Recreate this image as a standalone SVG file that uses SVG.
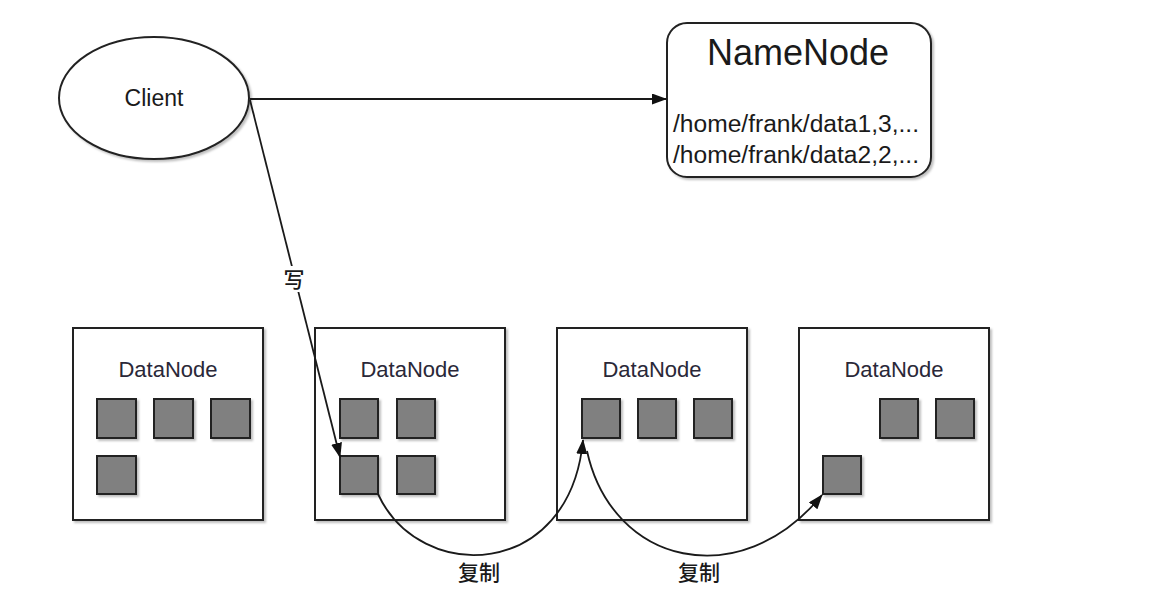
<svg xmlns="http://www.w3.org/2000/svg" width="1160" height="616" viewBox="0 0 1160 616">
<style>
.ln{fill:none;stroke:#1a1a1a;stroke-width:1.8}
.box{fill:#fff;stroke:#222;stroke-width:2}
.blk{fill:#808080;stroke:#222;stroke-width:2}
.lat{font-family:"Liberation Sans",Arial,sans-serif;fill:#1a1a1a}
.dn{font-family:"Liberation Sans",Arial,sans-serif;font-size:22px;fill:#2a2838;text-anchor:middle}
.cjk{font-family:"Noto Sans CJK SC","Noto Sans",sans-serif;font-size:21px;font-weight:500;fill:#1a1a1a;text-anchor:middle}
</style>
<defs>
<marker id="ah" markerWidth="15" markerHeight="11" refX="14" refY="5.5" orient="auto" markerUnits="userSpaceOnUse">
<path d="M0,0 L15,5.5 L0,11 Z" fill="#111"/>
</marker>
<filter id="sh" x="-10%" y="-10%" width="130%" height="130%">
<feDropShadow dx="2" dy="2" stdDeviation="1.2" flood-color="#000" flood-opacity="0.25"/>
</filter>
</defs>
<rect width="1160" height="616" fill="#fff"/>

<g id="client">
<ellipse cx="154" cy="98" rx="95" ry="61" class="box" filter="url(#sh)"/>
<text x="154" y="106" class="lat" font-size="23" text-anchor="middle">Client</text>
</g>

<g id="namenode">
<rect x="667" y="23" width="264" height="154" rx="20" class="box" filter="url(#sh)"/>
<text x="798" y="65" class="lat" font-size="36" text-anchor="middle">NameNode</text>
<text x="673" y="132" class="lat" font-size="23" textLength="246" lengthAdjust="spacingAndGlyphs">/home/frank/data1,3,...</text>
<text x="673" y="163" class="lat" font-size="23" textLength="246" lengthAdjust="spacingAndGlyphs">/home/frank/data2,2,...</text>
</g>

<g id="datanode1">
<rect x="73" y="328" width="190" height="192" class="box" filter="url(#sh)"/>
<text x="168" y="377" class="dn">DataNode</text>
<rect x="97" y="399" width="39" height="39" class="blk" filter="url(#sh)"/>
<rect x="154" y="399" width="39" height="39" class="blk" filter="url(#sh)"/>
<rect x="211" y="399" width="39" height="39" class="blk" filter="url(#sh)"/>
<rect x="97" y="456" width="39" height="38" class="blk" filter="url(#sh)"/>
</g>

<g id="datanode2">
<rect x="315" y="328" width="190" height="192" class="box" filter="url(#sh)"/>
<text x="410" y="377" class="dn">DataNode</text>
<rect x="340" y="399" width="38" height="39" class="blk" filter="url(#sh)"/>
<rect x="397" y="399" width="38" height="39" class="blk" filter="url(#sh)"/>
<rect x="340" y="456" width="38" height="38" class="blk" filter="url(#sh)"/>
<rect x="397" y="456" width="38" height="38" class="blk" filter="url(#sh)"/>
</g>

<g id="datanode3">
<rect x="557" y="328" width="190" height="192" class="box" filter="url(#sh)"/>
<text x="652" y="377" class="dn">DataNode</text>
<rect x="582" y="399" width="38" height="39" class="blk" filter="url(#sh)"/>
<rect x="638" y="399" width="38" height="39" class="blk" filter="url(#sh)"/>
<rect x="694" y="399" width="38" height="39" class="blk" filter="url(#sh)"/>
</g>

<g id="datanode4">
<rect x="799" y="328" width="190" height="192" class="box" filter="url(#sh)"/>
<text x="894" y="377" class="dn">DataNode</text>
<rect x="880" y="399" width="38" height="39" class="blk" filter="url(#sh)"/>
<rect x="936" y="399" width="38" height="39" class="blk" filter="url(#sh)"/>
<rect x="823" y="456" width="38" height="38" class="blk" filter="url(#sh)"/>
</g>

<g id="connectors">
<path d="M250,99 L666,99" class="ln" marker-end="url(#ah)"/>
<path d="M250,100 L340,457" class="ln" marker-end="url(#ah)"/>
<rect x="281" y="266" width="26" height="26" fill="#fff"/>
<text x="294" y="287" class="cjk">写</text>
<path d="M378,494 C420,585 570,580 583,440" class="ln" marker-end="url(#ah)"/>
<path d="M587,451 C612,565 740,595 822,495" class="ln" marker-end="url(#ah)"/>
<text x="479" y="580" class="cjk">复制</text>
<text x="699" y="580" class="cjk">复制</text>
</g>
</svg>
